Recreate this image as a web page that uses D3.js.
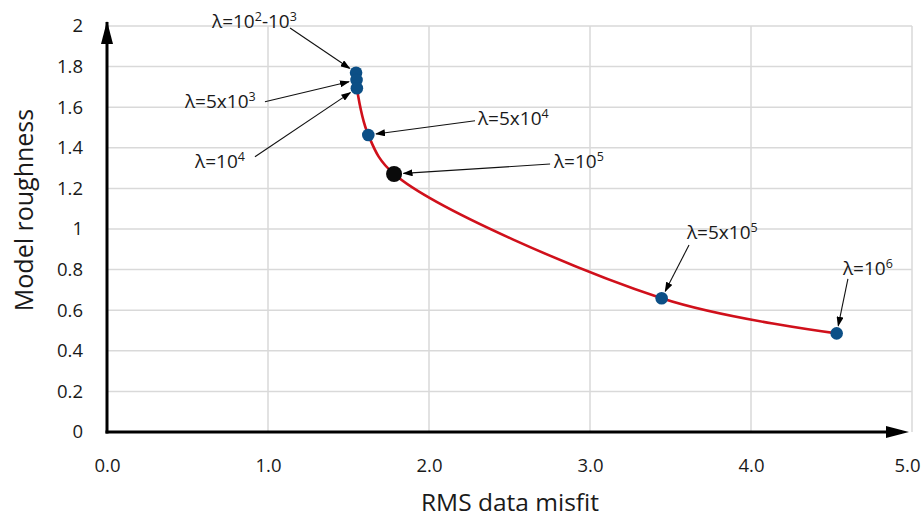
<!DOCTYPE html>
<html><head><meta charset="utf-8">
<script src="https://cdn.jsdelivr.net/npm/d3@7"></script>
<style>body{margin:0;background:#fff}text{font-family:"Open Sans",sans-serif;fill:#1a1a1a}</style>
</head><body><svg id="c" width="921" height="519"></svg>
<script>
// data
const xTicks = [0,1,2,3,4,5];
const xTickLabels = ["0.0","1.0","2.0","3.0","4.0","5.0"];
const yTicks = [0,0.2,0.4,0.6,0.8,1,1.2,1.4,1.6,1.8,2];
const yTickLabels = ["0","0.2","0.4","0.6","0.8","1","1.2","1.4","1.6","1.8","2"];
const lambdas = ["10²-10³","5x10³","10⁴","5x10⁴","10⁵","5x10⁵","10⁶"];
const misfit = [1.547,1.55,1.552,1.623,1.783,3.445,4.532];
const roughness = [1.77,1.734,1.693,1.463,1.271,0.659,0.486];
const highlight = [false,false,false,false,true,false,false];
// annotation text: [text, isSuperscript]
const labelParts = [
  [["λ=10",0],["2",1],["-10",0],["3",1]],
  [["λ=5x10",0],["3",1]],
  [["λ=10",0],["4",1]],
  [["λ=5x10",0],["4",1]],
  [["λ=10",0],["5",1]],
  [["λ=5x10",0],["5",1]],
  [["λ=10",0],["6",1]]
];
const labelX = [0.652,0.484,0.547,2.304,2.776,3.602,4.571];
const labelY = [1.99,1.596,1.30,1.512,1.30,0.951,0.773];
const arrowX = [1.137,0.981,0.919,2.286,2.752,3.615,4.602];
const arrowY = [1.99,1.627,1.356,1.533,1.32,0.921,0.754];

const svg = d3.select("#c");
const x = d3.scaleLinear().domain([0,5]).range([107,912]);
const y = d3.scaleLinear().domain([0,2]).range([432,26]);

// grid
svg.append("g").selectAll("line").data(xTicks.slice(1)).join("line")
  .attr("x1",d=>x(d)).attr("x2",d=>x(d)).attr("y1",y(0)).attr("y2",y(2))
  .attr("stroke","#d9d9d9").attr("stroke-width",1.5);
svg.append("g").selectAll("line").data(yTicks.slice(1)).join("line")
  .attr("x1",x(0)).attr("x2",x(5)).attr("y1",d=>y(d)).attr("y2",d=>y(d))
  .attr("stroke","#d9d9d9").attr("stroke-width",1.5);

// axes via d3 axis (labels only)
const xAxis = svg.append("g").attr("transform",`translate(0,${y(0)})`)
  .call(d3.axisBottom(x).tickValues(xTicks).tickFormat((d,i)=>xTickLabels[i]).tickSize(0).tickPadding(27));
xAxis.select(".domain").remove();
xAxis.selectAll("text").attr("font-size",18.5).attr("font-family","Open Sans").attr("fill","#1a1a1a");
xAxis.selectAll(".tick").filter(d=>d===5).select("text").attr("text-anchor","end").attr("x",8);
const yAxis = svg.append("g").attr("transform",`translate(${x(0)},0)`)
  .call(d3.axisLeft(y).tickValues(yTicks).tickFormat((d,i)=>yTickLabels[i]).tickSize(0).tickPadding(24));
yAxis.select(".domain").remove();
yAxis.selectAll("text").attr("font-size",18.5).attr("font-family","Open Sans").attr("fill","#1a1a1a");

// arrow marker
const defs = svg.append("defs");
defs.append("marker").attr("id","smallArrow").attr("viewBox","0 0 10 10").attr("refX",9).attr("refY",5)
  .attr("markerWidth",10).attr("markerHeight",7).attr("markerUnits","userSpaceOnUse").attr("orient","auto")
  .attr("preserveAspectRatio","none")
  .append("path").attr("d","M0,0L10,5L0,10Z").attr("fill","#000");

// main axes lines with arrowheads
svg.append("line").attr("x1",x(0)).attr("y1",y(0)+1.5).attr("x2",x(0)).attr("y2",y(2)-4)
  .attr("stroke","#000").attr("stroke-width",3);
svg.append("path").attr("d",`M${x(0)-6},${y(2)+18}L${x(0)},${y(2)-5}L${x(0)+6},${y(2)+18}Z`).attr("fill","#000");
svg.append("line").attr("x1",x(0)-1.5).attr("y1",y(0)).attr("x2",x(5)-10).attr("y2",y(0))
  .attr("stroke","#000").attr("stroke-width",3);
svg.append("path").attr("d",`M${x(5)-26},${y(0)-6}L${x(5)-3},${y(0)}L${x(5)-26},${y(0)+6}Z`).attr("fill","#000");

// curve
const pts = misfit.map((m,i)=>[m,roughness[i]]).slice(2);
svg.append("path").datum(pts)
  .attr("d",d3.line().x(d=>x(d[0])).y(d=>y(d[1])).curve(d3.curveCatmullRom.alpha(0.5)))
  .attr("fill","none").attr("stroke","#d0101b").attr("stroke-width",2.6);

// points
svg.append("g").selectAll("circle").data(misfit.map((m,i)=>i)).join("circle")
  .attr("cx",i=>x(misfit[i])).attr("cy",i=>y(roughness[i]))
  .attr("r",i=>highlight[i]?8:6.3)
  .attr("fill",i=>highlight[i]?"#0a0a0a":"#0c4f86");

// annotations
const ann = svg.append("g");
labelParts.forEach((parts,i)=>{
  const t = ann.append("text").attr("x",x(labelX[i])).attr("y",y(labelY[i])).attr("font-size",19);
  parts.forEach(p=>{
    const s = t.append("tspan").text(p[0]);
    if(p[1]) s.attr("font-size",12.5).attr("baseline-shift","7");
  });
  const x1=x(arrowX[i]), y1=y(arrowY[i]), cx=x(misfit[i]), cy=y(roughness[i]);
  const r=(highlight[i]?8:6.3)+1.5;
  const dx=cx-x1, dy=cy-y1, L=Math.hypot(dx,dy);
  ann.append("line").attr("x1",x1).attr("y1",y1).attr("x2",cx-dx/L*r).attr("y2",cy-dy/L*r)
    .attr("stroke","#111").attr("stroke-width",1.1).attr("marker-end","url(#smallArrow)");
});

// axis titles
svg.append("text").attr("x",510).attr("y",511).attr("text-anchor","middle").attr("font-size",24.5).text("RMS data misfit");
svg.append("text").attr("transform",`translate(33,210) rotate(-90)`).attr("text-anchor","middle").attr("font-size",25).text("Model roughness");
</script></body></html>
